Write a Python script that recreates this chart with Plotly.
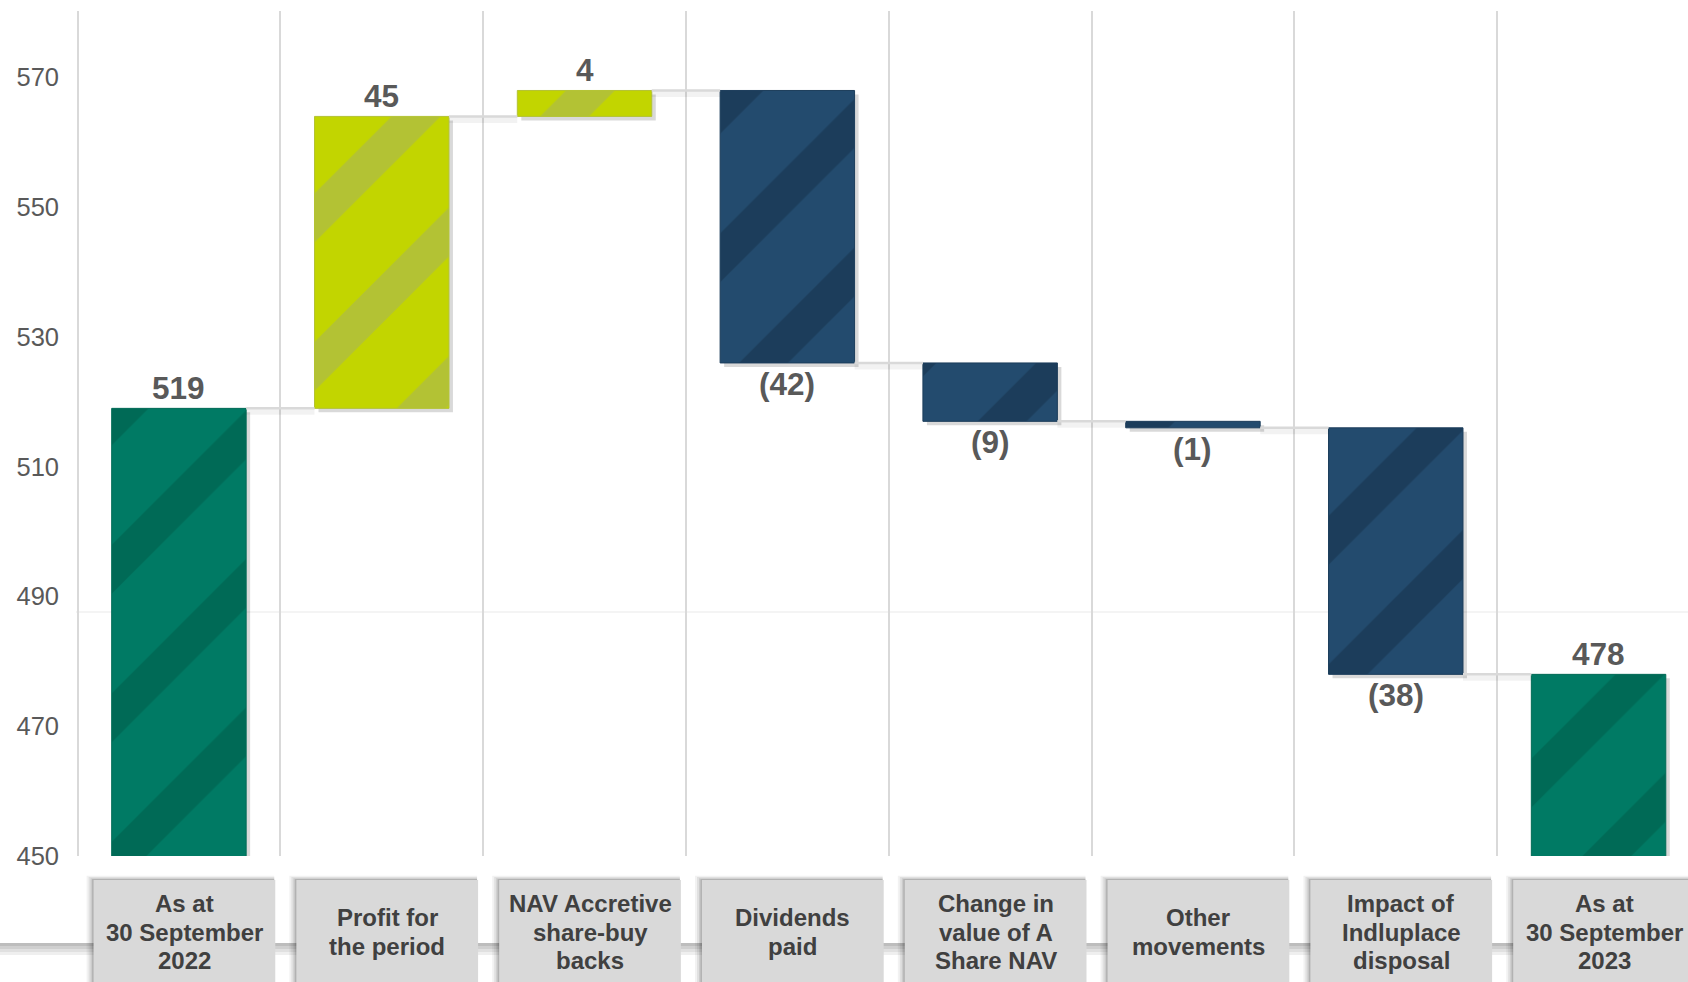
import plotly.graph_objects as go

# ---------------- data ----------------
categories = [
    "As at<br>30 September<br>2022",
    "Profit for<br>the period",
    "NAV Accretive<br>share-buy<br>backs",
    "Dividends<br>paid",
    "Change in<br>value of A<br>Share NAV",
    "Other<br>movements",
    "Impact of<br>Indluplace<br>disposal",
    "As at<br>30 September<br>2023",
]
measures = ["absolute", "relative", "relative", "relative", "relative", "relative", "relative", "total"]
values = [519, 45, 4, -42, -9, -1, -38, 478]
value_labels = ["519", "45", "4", "(42)", "(9)", "(1)", "(38)", "478"]
y_ticks = [450, 470, 490, 510, 530, 550, 570]

# ---------------- styling ----------------
FONT = "Liberation Sans, Arial, Helvetica, sans-serif"
TEAL, TEAL_D = "#007A64", "#006A56"
LIME, LIME_D = "#C2D500", "#B3C234"
NAVY, NAVY_D = "#234B6E", "#1C3D5B"
BAR_W = 0.663
X0, X1 = -0.5075, 7.441
Y0, Y1 = 450, 580.25
PLOT_TOP, PLOT_BOT = 11, 856  # pixels
PLOT_H = PLOT_BOT - PLOT_TOP
CAT_PX = 202.8
UNIT_PX = PLOT_H / (Y1 - Y0)

# compute bases / heights from the data
bases, heights, ends = [], [], []
level = 0
for m, v in zip(measures, values):
    if m == "absolute":
        b, h = 0, v
        level = v
    elif m == "relative":
        b, h = level, v
        level += v
    else:
        b, h = 0, level
    bases.append(b)
    heights.append(h)
    ends.append(level)

fig = go.Figure()
n = len(categories)
xs = list(range(n))

# shadows behind bars
dx = 4 / CAT_PX
dy = 4 / UNIT_PX
fig.add_trace(go.Bar(
    x=[i + dx for i in xs], y=heights, base=[b - dy for b in bases], width=BAR_W,
    marker=dict(color="rgba(0,0,0,0.15)", line=dict(width=0)),
    hoverinfo="skip", showlegend=False,
))

for i in xs:
    m = measures[i]
    if m in ("absolute", "total"):
        c, cd = TEAL, TEAL_D
    elif values[i] >= 0:
        c, cd = LIME, LIME_D
    else:
        c, cd = NAVY, NAVY_D
    fig.add_trace(go.Bar(
        x=[i], y=[heights[i]], base=[bases[i]], width=BAR_W,
        marker=dict(
            color=c,
            line=dict(width=1, color=cd),
            pattern=dict(shape="/", fillmode="overlay", bgcolor=c, fgcolor=cd,
                         fgopacity=1, size=105, solidity=0.33),
        ),
        hoverinfo="skip", showlegend=False,
    ))

# connectors between bars (computed from data)
for i in range(n - 1):
    lvl = ends[i]
    xa = i + BAR_W / 2
    xb = i + 1 - BAR_W / 2
    fig.add_trace(go.Scatter(
        x=[xa, xb], y=[lvl - 3 / UNIT_PX, lvl - 3 / UNIT_PX], mode="lines",
        line=dict(color="rgba(0,0,0,0.05)", width=7), hoverinfo="skip", showlegend=False,
    ))
    fig.add_trace(go.Scatter(
        x=[xa, xb], y=[lvl, lvl], mode="lines",
        line=dict(color="#d9d9d9", width=2.5), hoverinfo="skip", showlegend=False,
    ))

annotations = []
# value labels
for i in xs:
    top = bases[i] + heights[i]
    if measures[i] == "relative" and values[i] < 0:
        y, shift = top, -21
    else:
        y, shift = top, 20
    annotations.append(dict(
        x=i, y=y, xref="x", yref="y", text=value_labels[i], showarrow=False,
        yanchor="middle", yshift=shift,
        font=dict(family=FONT, size=31.5, color="#595959", weight="bold"),
    ))

shapes = []


def px_to_paper_y(p):
    return (PLOT_BOT - p) / PLOT_H


def idx_to_paper_x(v):
    return (v - X0) / (X1 - X0)


# faint horizontal line in plot background
shapes.append(dict(type="line", xref="paper", yref="paper", x0=0, x1=1,
                   y0=px_to_paper_y(612), y1=px_to_paper_y(612),
                   line=dict(color="#f4f4f4", width=2), layer="below"))

# grey band behind category boxes
band = [(943, 946, "#bdbdbd"), (946, 949, "#cfcfcf"), (949, 952, "#e0e0e0"), (952, 955, "#efefef")]
for a, b, col in band:
    shapes.append(dict(type="rect", xref="paper", yref="paper",
                       x0=-0.1, x1=1.1, y0=px_to_paper_y(b), y1=px_to_paper_y(a),
                       fillcolor=col, line=dict(width=0), layer="below"))

# category boxes
box_half = 0.448
box_off = 5.5 / CAT_PX
box_top_px = 880
LINE_PX = 28.5
for i in xs:
    cx = i + box_off
    bx0, bx1 = cx - box_half, cx + box_half
    # shadow
    for k, a in [(7, 0.05), (5, 0.07), (3, 0.09), (1.5, 0.12)]:
        shapes.append(dict(type="rect", xref="paper", yref="paper",
                           x0=idx_to_paper_x(bx0 - k / CAT_PX), x1=idx_to_paper_x(bx1 - 1 / CAT_PX),
                           y0=px_to_paper_y(1000), y1=px_to_paper_y(box_top_px - k * 0.6),
                           fillcolor=f"rgba(0,0,0,{a})", line=dict(width=0), layer="below"))
    shapes.append(dict(type="rect", xref="paper", yref="paper",
                       x0=idx_to_paper_x(bx0), x1=idx_to_paper_x(bx1),
                       y0=px_to_paper_y(1000), y1=px_to_paper_y(box_top_px),
                       fillcolor="#d9d9d9", line=dict(width=0), layer="below"))
    lines = categories[i].split("<br>")
    nl = len(lines)
    for k, txt in enumerate(lines):
        ypx = 932 + (k - (nl - 1) / 2) * LINE_PX
        annotations.append(dict(
            x=idx_to_paper_x(cx), y=px_to_paper_y(ypx), xref="paper", yref="paper",
            text=txt, showarrow=False, xanchor="center", yanchor="middle",
            align="center",
            font=dict(family=FONT, size=24, color="#404040", weight="bold"),
        ))

fig.update_layout(
    width=1688, height=982,
    margin=dict(l=76, r=0, t=PLOT_TOP, b=982 - PLOT_BOT, autoexpand=False),
    plot_bgcolor="white", paper_bgcolor="white",
    barmode="overlay", showlegend=False,
    font=dict(family=FONT, color="#595959"),
    annotations=annotations, shapes=shapes,
    xaxis=dict(range=[X0, X1], tickvals=[i - 0.5 for i in range(n + 1)],
               showticklabels=False, showgrid=True, gridcolor="#d9d9d9", gridwidth=2,
               zeroline=False, showline=False, ticks="", fixedrange=True),
    yaxis=dict(range=[Y0, Y1], tickvals=y_ticks, showgrid=False, zeroline=False,
               showline=False, ticks="", ticklabelstandoff=16,
               tickfont=dict(family=FONT, size=25.5, color="#595959"), fixedrange=True),
)

fig.write_html("out.html")
